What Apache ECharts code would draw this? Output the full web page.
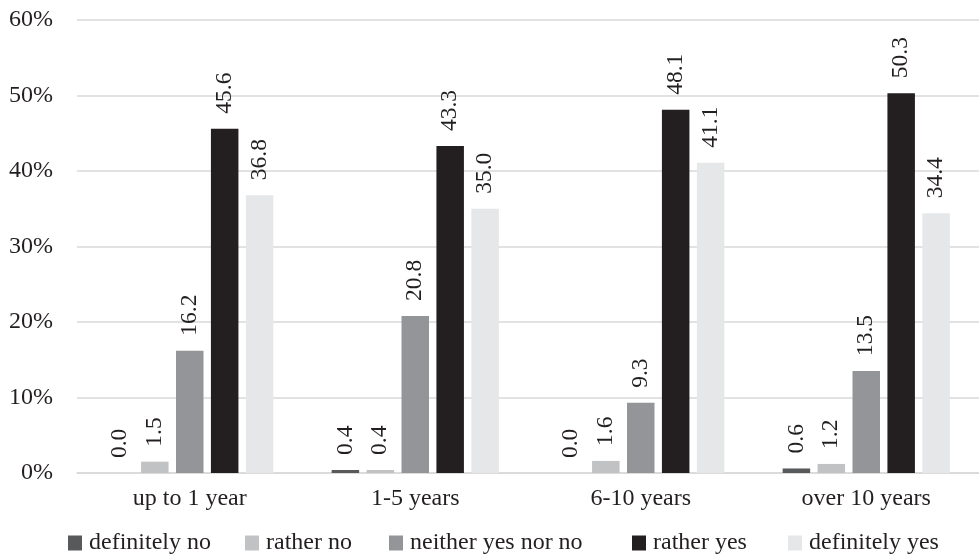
<!DOCTYPE html>
<html>
<head>
<meta charset="utf-8">
<script src="https://cdn.jsdelivr.net/npm/echarts@6/dist/echarts.min.js"></script>
<style>
  html, body { margin: 0; padding: 0; background: #fff; }
  #chart { width: 979px; height: 555px; }
</style>
</head>
<body>
<div id="chart"></div>
<script>
// Categories: length of experience
const categories = ['up to 1 year', '1-5 years', '6-10 years', 'over 10 years'];

// Answer shares in percent, one array per answer
const definitelyNo = [0.0, 0.4, 0.0, 0.6];
const ratherNo = [1.5, 0.4, 1.6, 1.2];
const neitherYesNorNo = [16.2, 20.8, 9.3, 13.5];
const ratherYes = [45.6, 43.3, 48.1, 50.3];
const definitelyYes = [36.8, 35.0, 41.1, 34.4];

const seriesNames = ['definitely no', 'rather no', 'neither yes nor no', 'rather yes', 'definitely yes'];
const seriesData = [definitelyNo, ratherNo, neitherYesNorNo, ratherYes, definitelyYes];
const seriesColors = ['#58595b', '#c1c2c4', '#939598', '#231f20', '#e6e7e8'];

// Left edge of each legend entry's swatch
const legendLefts = [68, 245, 389, 632, 788];

const FONT = '"Liberation Serif", "Times New Roman", serif';
const TEXT_COLOR = '#231f20';

const chart = echarts.init(document.getElementById('chart'), null, { renderer: 'canvas' });

chart.setOption({
  animation: false,
  backgroundColor: '#ffffff',
  textStyle: { fontFamily: FONT },
  grid: { left: 77, right: -4, top: 20, bottom: 82, containLabel: false },
  legend: seriesNames.map((name, i) => ({
    left: legendLefts[i],
    top: 531,
    padding: 0,
    itemWidth: 14,
    itemHeight: 15,
    icon: 'rect',
    textStyle: { fontFamily: FONT, fontSize: 24, color: TEXT_COLOR, padding: [0, 0, 0, 2] },
    data: [name]
  })),
  xAxis: {
    type: 'category',
    data: categories,
    axisLine: { show: true, lineStyle: { color: '#d9d9d9', width: 1.5 } },
    axisTick: { show: false },
    axisLabel: { fontFamily: FONT, fontSize: 24, color: TEXT_COLOR, margin: 14 }
  },
  yAxis: {
    type: 'value',
    min: 0,
    max: 60,
    interval: 10,
    axisLine: { show: false },
    axisTick: { show: false },
    splitLine: { lineStyle: { color: '#d9d9d9', width: 1.5 } },
    axisLabel: { fontFamily: FONT, fontSize: 24, color: TEXT_COLOR, margin: 24, formatter: '{value}%' }
  },
  series: seriesNames.map((name, i) => ({
    name: name,
    type: 'bar',
    data: seriesData[i],
    barWidth: 27.5,
    barGap: '27%',
    itemStyle: { color: seriesColors[i] },
    label: {
      show: true,
      position: 'top',
      distance: 15,
      rotate: 90,
      align: 'left',
      verticalAlign: 'middle',
      fontFamily: FONT,
      fontSize: 23.5,
      color: TEXT_COLOR,
      formatter: p => p.value.toFixed(1)
    }
  }))
});
</script>
</body>
</html>
